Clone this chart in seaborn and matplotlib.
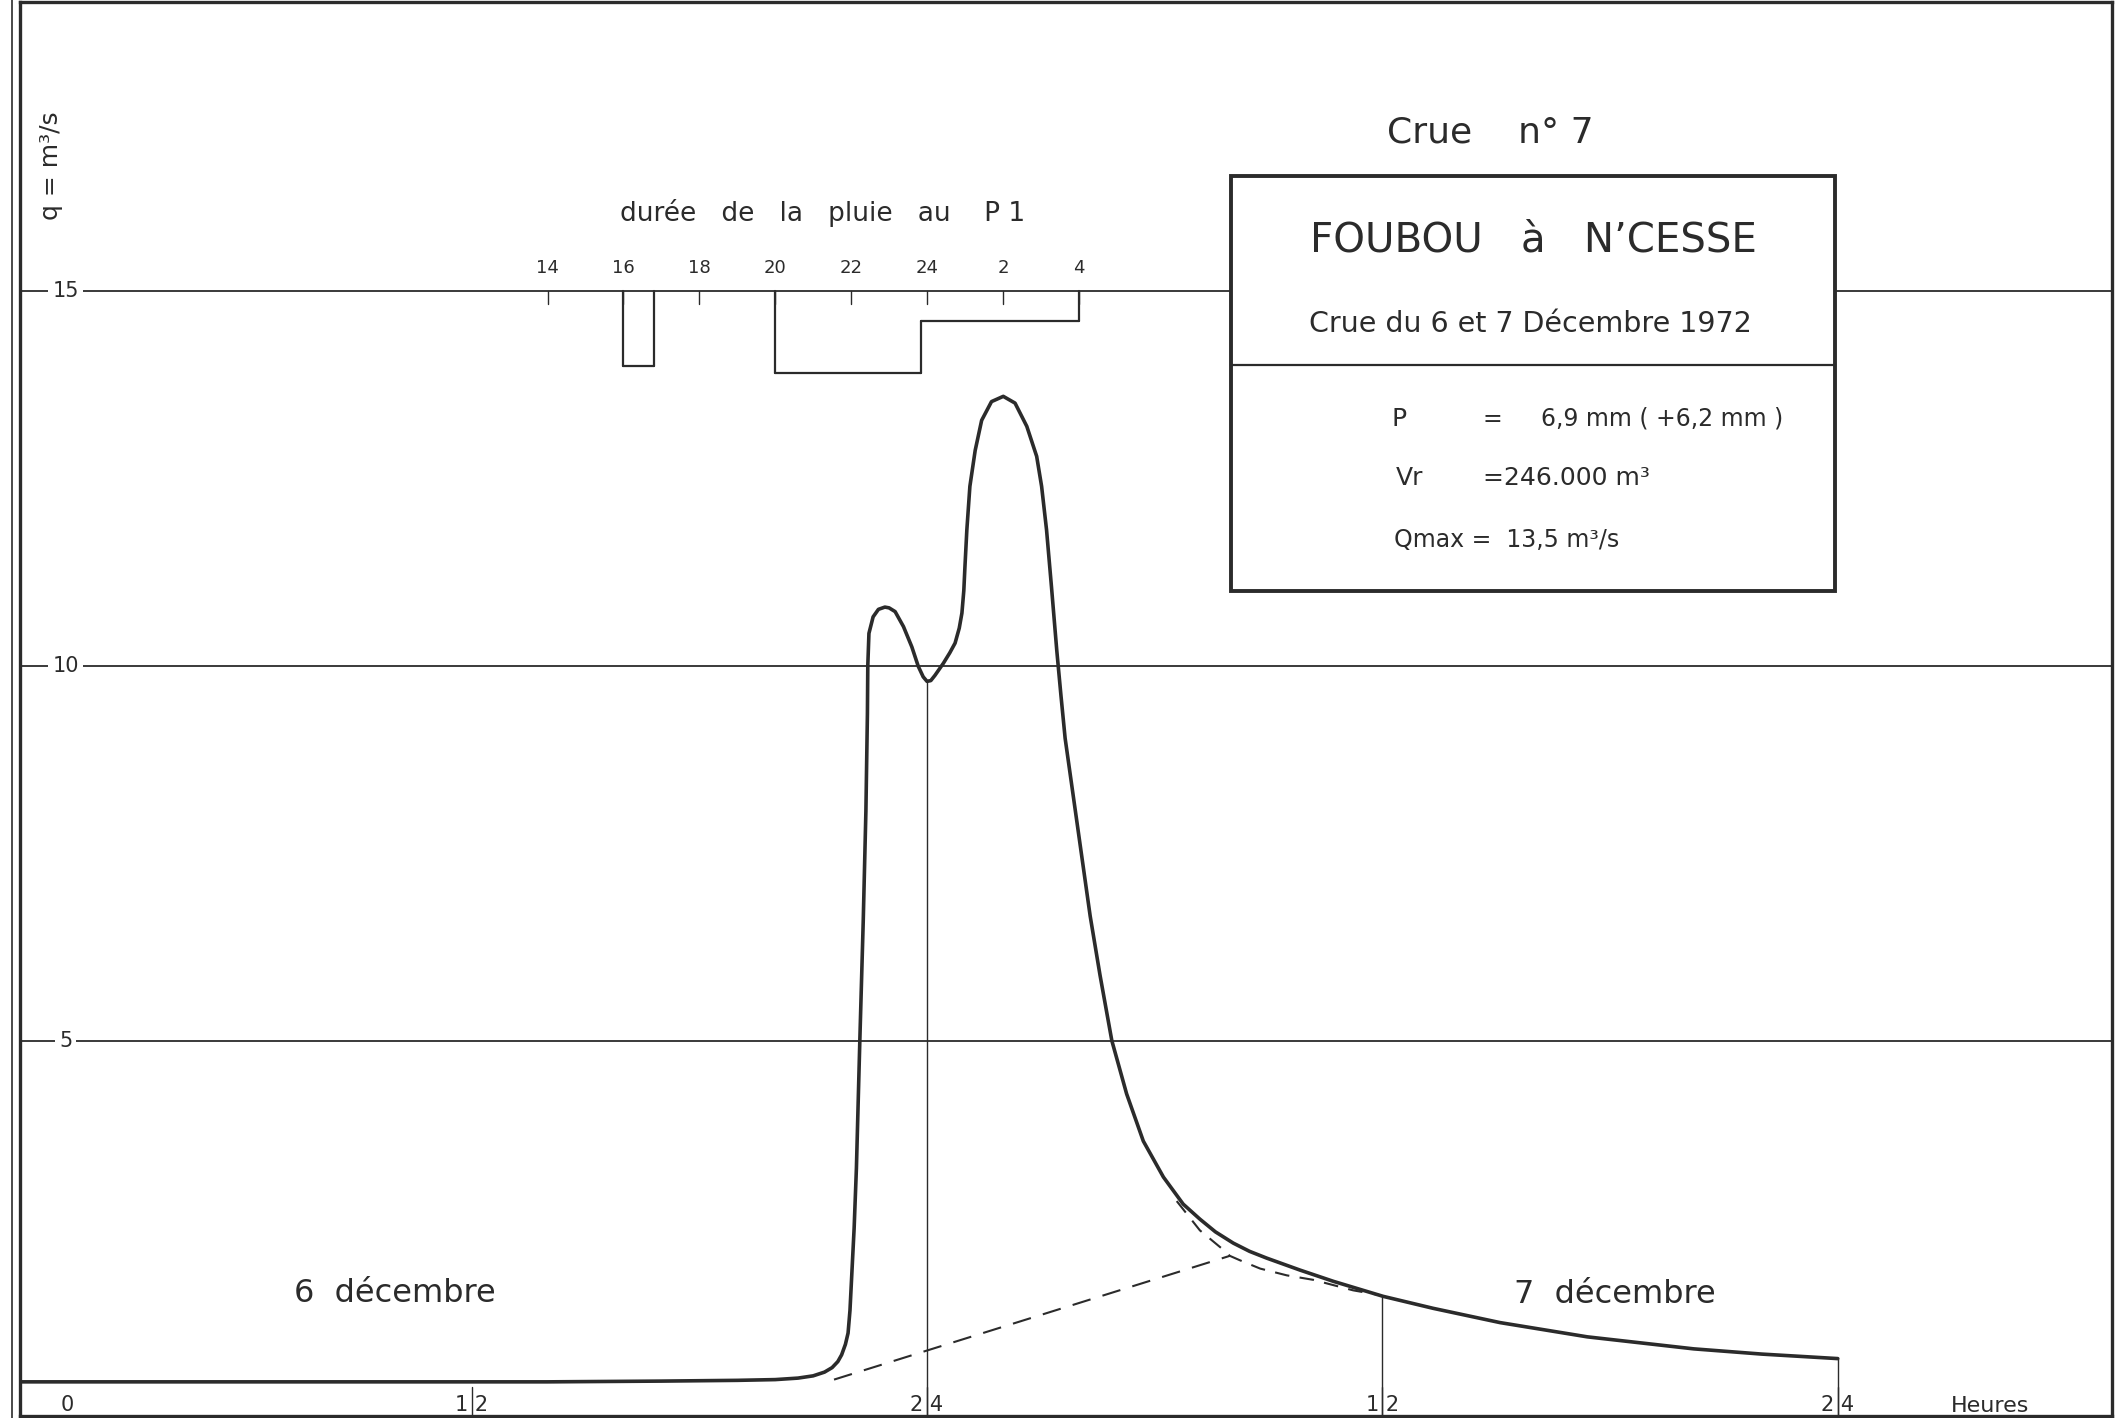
import numpy as np
import seaborn as sns
import matplotlib.pyplot as plt
from matplotlib.lines import Line2D
from matplotlib.patches import Rectangle

# flood hydrograph, hours counted from 0 h on 6 December, discharge in m3/s
hours = [0, 8, 14, 17, 19, 20, 20.6, 21.0, 21.3, 21.5, 21.65, 21.75, 21.85, 21.92,
         21.97, 22.02, 22.08, 22.14, 22.23, 22.32, 22.39, 22.43, 22.44, 22.47, 22.58,
         22.72, 22.89, 23.0, 23.16, 23.38, 23.6, 23.77, 23.9, 24.0, 24.1, 24.21, 24.43,
         24.6, 24.74, 24.85, 24.92, 24.97, 25.0, 25.05, 25.13, 25.27, 25.44, 25.7, 26.01,
         26.32, 26.63, 26.89, 27.02, 27.15, 27.28, 27.42, 27.53, 27.64, 27.86, 28.08, 28.3,
         28.56, 28.87, 29.26, 29.7, 30.23, 30.75, 31.19, 31.6, 32.07, 32.5, 32.95, 33.83,
         34.71, 36.02, 37.34, 39.1, 41.4, 44.2, 46.0, 48.0]
q = [0.45, 0.45, 0.45, 0.46, 0.47, 0.48, 0.50, 0.53, 0.58, 0.64, 0.72, 0.81, 0.95, 1.1,
     1.4, 1.9, 2.5, 3.3, 5.0, 6.6, 8.06, 9.36, 10.0, 10.43, 10.65,
     10.75, 10.78, 10.77, 10.72, 10.52, 10.25, 9.99, 9.85, 9.79, 9.80, 9.87, 10.03,
     10.17, 10.3, 10.5, 10.7, 11.0, 11.32, 11.81, 12.39, 12.87, 13.27, 13.52, 13.59,
     13.5, 13.19, 12.79, 12.39, 11.81, 11.05, 10.2, 9.6, 9.03, 8.24, 7.45, 6.66,
     5.87, 5.0, 4.29, 3.66, 3.18, 2.82, 2.62, 2.45, 2.30, 2.19, 2.10, 1.94,
     1.79, 1.59, 1.43, 1.24, 1.05, 0.89, 0.82, 0.76]

# base flow separation (dashed)
base_h = [21.55, 31.98]
base_q = [0.48, 2.13]
rec_h = [30.58, 31.19, 31.81, 31.98, 32.25, 32.78, 33.48, 34.18, 35.23, 35.9]
rec_q = [2.86, 2.47, 2.21, 2.13, 2.07, 1.96, 1.87, 1.81, 1.67, 1.61]

# rain at P 1: start hour, end hour, depth below the 15 line
rain_start = [16.0, 20.0, 23.85]
rain_end = [16.8, 23.85, 28.0]
rain_depth = [1.0, 1.1, 0.4]
rain_ticks = [14, 16, 18, 20, 22, 24, 26, 28]
rain_labels = ['14', '16', '18', '20', '22', '24', '2', '4']

x_ticks = [12, 24, 36, 48]
x_labels = ['12', '24', '12', '24']
y_ticks = [5, 10, 15]

sns.set_style('white')
plt.rcParams['font.family'] = ['DejaVu Sans']

ink = '#2b2b2b'
W, H = 2119, 1418
fig = plt.figure(figsize=(W / 100, H / 100), dpi=100)


def hx(px):
    return (px - 16.2) / 37.95


def vy(py):
    return (1415.6 - py) / 75.0


ax = fig.add_axes([20 / W, 2 / H, (2112 - 20) / W, (1416 - 2) / H])
ax.set_xlim(hx(20), hx(2112))
ax.set_ylim(vy(1416), vy(2))
ax.set_xticks([])
ax.set_yticks([])
for s in ax.spines.values():
    s.set_color(ink)
    s.set_linewidth(2.4)
fig.add_artist(Line2D([12 / W, 12 / W], [0, 1], color=ink, lw=1.2))

# horizontal grid lines with their labels sitting in a gap
for yv in y_ticks:
    ax.axhline(yv, color=ink, lw=1.3, zorder=1)
    ax.text(1.3, yv, str(yv), ha='center', va='center', fontsize=15, color=ink, zorder=4,
            bbox=dict(facecolor='white', edgecolor='none', pad=3))

# hydrograph
sns.lineplot(x=hours, y=q, ax=ax, color=ink, lw=2.6, zorder=3)
sns.lineplot(x=base_h, y=base_q, ax=ax, color=ink, lw=1.5, linestyle=(0, (9, 6)), zorder=3)
sns.lineplot(x=rec_h, y=rec_q, ax=ax, color=ink, lw=1.5, linestyle=(0, (7, 5)), zorder=3)

# vertical reference lines at 24 h, 36 h and 48 h
for xv in x_ticks[1:]:
    ax.plot([xv, xv], [0, np.interp(xv, hours, q)], color=ink, lw=1.0, zorder=2)
for xv, lab in zip(x_ticks, x_labels):
    ax.plot([xv, xv], [0, 0.38], color=ink, lw=1.0, zorder=2)
    ax.text(xv, 0.14, lab[0] + ' ' + lab[1], ha='center', va='center', fontsize=15, color=ink)
ax.text(1.34, 0.14, '0', ha='center', va='center', fontsize=15, color=ink)
ax.text(52.0, 0.13, 'Heures', ha='center', va='center', fontsize=16, color=ink)

# rain bars hanging under the 15 line
for i, (s, e, d) in enumerate(zip(rain_start, rain_end, rain_depth)):
    ax.plot([s, e], [15 - d, 15 - d], color=ink, lw=1.6, zorder=2)
    top = 15 - rain_depth[i - 1] if i > 0 and rain_end[i - 1] == s else 15
    ax.plot([s, s], [top, 15 - d], color=ink, lw=1.6, zorder=2)
    if not (i + 1 < len(rain_start) and rain_start[i + 1] == e):
        ax.plot([e, e], [15 - d, 15], color=ink, lw=1.6, zorder=2)
for t, lab in zip(rain_ticks, rain_labels):
    ax.plot([t, t], [15, 14.82], color=ink, lw=1.0)
    ax.text(t, 15.3, lab, ha='center', va='center', fontsize=13, color=ink)
ax.text(21.25, 16.04, 'durée   de   la   pluie   au    P 1', ha='center', va='center',
        fontsize=19, color=ink)

# day names and axis title
ax.text(9.97, 1.63, '6  décembre', ha='center', va='center', fontsize=23, color=ink)
ax.text(42.13, 1.61, '7  décembre', ha='center', va='center', fontsize=23, color=ink)
ax.text(0.93, 16.67, 'q = m³/s', rotation=90, ha='center', va='center', fontsize=18, color=ink)

# title block
ax.text(38.85, 17.11, 'Crue    n° 7', ha='center', va='center', fontsize=26, color=ink)
ax.add_patch(Rectangle((32.01, 11.0), 47.93 - 32.01, 16.53 - 11.0, facecolor='white',
                       edgecolor=ink, lw=2.8, zorder=5))
ax.plot([32.01, 47.93], [14.01, 14.01], color=ink, lw=1.6, zorder=6)
ax.text(39.99, 15.67, 'FOUBOU   à   N’CESSE', ha='center', va='center', fontsize=29,
        color=ink, zorder=6)
ax.text(39.9, 14.56, 'Crue du 6 et 7 Décembre 1972', ha='center', va='center', fontsize=20.5,
        color=ink, zorder=6)
ax.text(36.25, 13.29, 'P', ha='left', va='center', fontsize=18, color=ink, zorder=6)
ax.text(38.9, 13.29, '=', ha='center', va='center', fontsize=17, color=ink, zorder=6)
ax.text(40.17, 13.29, '6,9 mm ( +6,2 mm )', ha='left', va='center', fontsize=17,
        color=ink, zorder=6)
ax.text(36.36, 12.5, 'Vr', ha='left', va='center', fontsize=18, color=ink, zorder=6)
ax.text(38.64, 12.5, '=246.000 m³', ha='left', va='center', fontsize=18, color=ink, zorder=6)
ax.text(36.3, 11.67, 'Qmax =  13,5 m³/s', ha='left', va='center', fontsize=17, color=ink,
        zorder=6)

fig.savefig('out.png', dpi=100)
